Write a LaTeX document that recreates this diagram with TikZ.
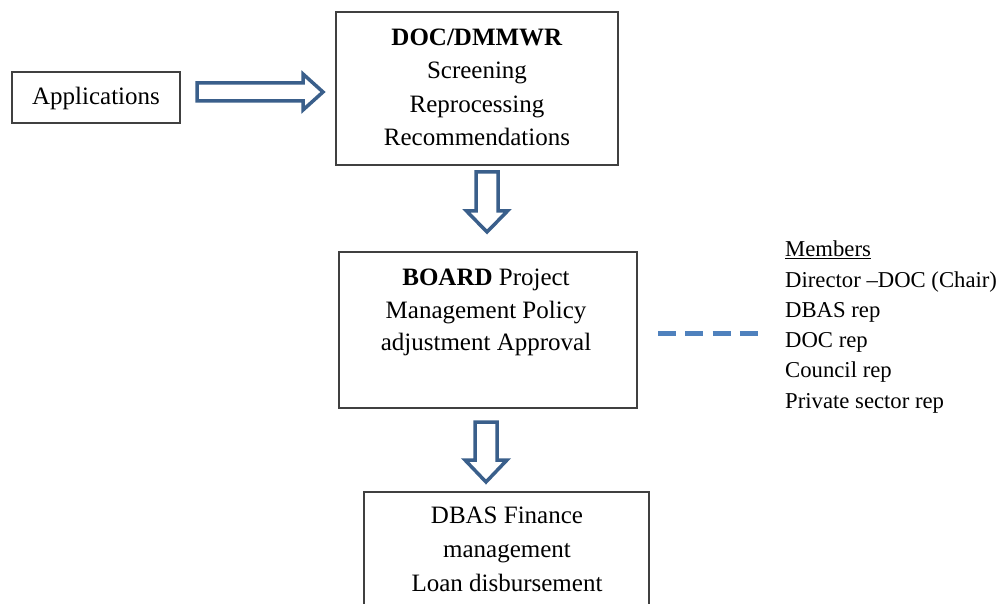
\documentclass[tikz,border=0pt]{standalone}
\usepackage{fontspec}
\setmainfont{Liberation Serif}
\usetikzlibrary{calc}
\definecolor{arrowblue}{HTML}{3A5F8B}
\definecolor{dashblue}{HTML}{4F81BD}
\definecolor{boxgray}{HTML}{404040}
\newcommand\mainfs{\fontsize{25}{33.5}\selectfont}
\newcommand\memfs{\fontsize{22.7}{30}\selectfont}
\tikzset{
  box/.style={draw=boxgray, line width=1.3pt, inner sep=0pt, fill=white},
  txt/.style={font=\mainfs, inner sep=0pt, anchor=base},
  mem/.style={font=\memfs, inner sep=0pt, anchor=base west},
  barrow/.style={draw=arrowblue, line width=3.5pt, fill=white, line join=miter},
  dashlink/.style={draw=dashblue, line width=5pt, dash pattern=on 18pt off 9.3pt}
}
\begin{document}
\begin{tikzpicture}[x=1pt,y=-1pt]
\useasboundingbox (0,0) rectangle (999,604);
\clip (0,0) rectangle (999,604);
% boxes
\node[box, minimum width=168pt, minimum height=51pt] (apps) at (96,97.5) {};
\node[txt] (appst) at (96,105) {Applications};

\node[box, minimum width=282pt, minimum height=153pt] (doc) at (477,88.5) {};
\node[txt] (doct1) at (477,45.5) {\textbf{DOC/DMMWR}};
\node[txt] (doct2) at (477,79) {Screening};
\node[txt] (doct3) at (477,112.5) {Reprocessing};
\node[txt] (doct4) at (477,146) {Recommendations};

\node[box, minimum width=298pt, minimum height=156pt] (board) at (488,330) {};
\node[txt] (boardt1) at (486,285) {\textbf{BOARD} Project};
\node[txt] (boardt2) at (486,318) {Management Policy};
\node[txt] (boardt3) at (486,350.5) {adjustment Approval};

\node[box, minimum width=285pt, minimum height=136pt] (dbas) at (506.5,560) {};
\node[txt] (dbast1) at (507,523.5) {DBAS Finance};
\node[txt] (dbast2) at (507,557.5) {management};
\node[txt] (dbast3) at (507,591.5) {Loan disbursement};

% block arrows
\draw[barrow] (197,83) -- (303,83) -- (303,74) -- (323,92) -- (303,110) -- (303,101) -- (197,101) -- cycle;
\draw[barrow] (476,172) -- (498,172) -- (498,211) -- (507.5,211) -- (487,232) -- (466.5,211) -- (476,211) -- cycle;
\draw[barrow] (475,422) -- (497,422) -- (497,460) -- (507,460) -- (486,482) -- (465,460) -- (475,460) -- cycle;

% dashed link
\coordinate (dl) at (658,333);
\coordinate (dr) at (758,333);
\draw[dashlink] (dl) -- (dr);

% members
\node[mem] (m0) at (785,257) {\underline{Members}};
\node[mem] (m1) at (785,287.2) {Director –DOC (Chair)};
\node[mem] (m2) at (785,317.4) {DBAS rep};
\node[mem] (m3) at (785,347.6) {DOC rep};
\node[mem] (m4) at (785,377.8) {Council rep};
\node[mem] (m5) at (785,408) {Private sector rep};
\end{tikzpicture}
\end{document}
